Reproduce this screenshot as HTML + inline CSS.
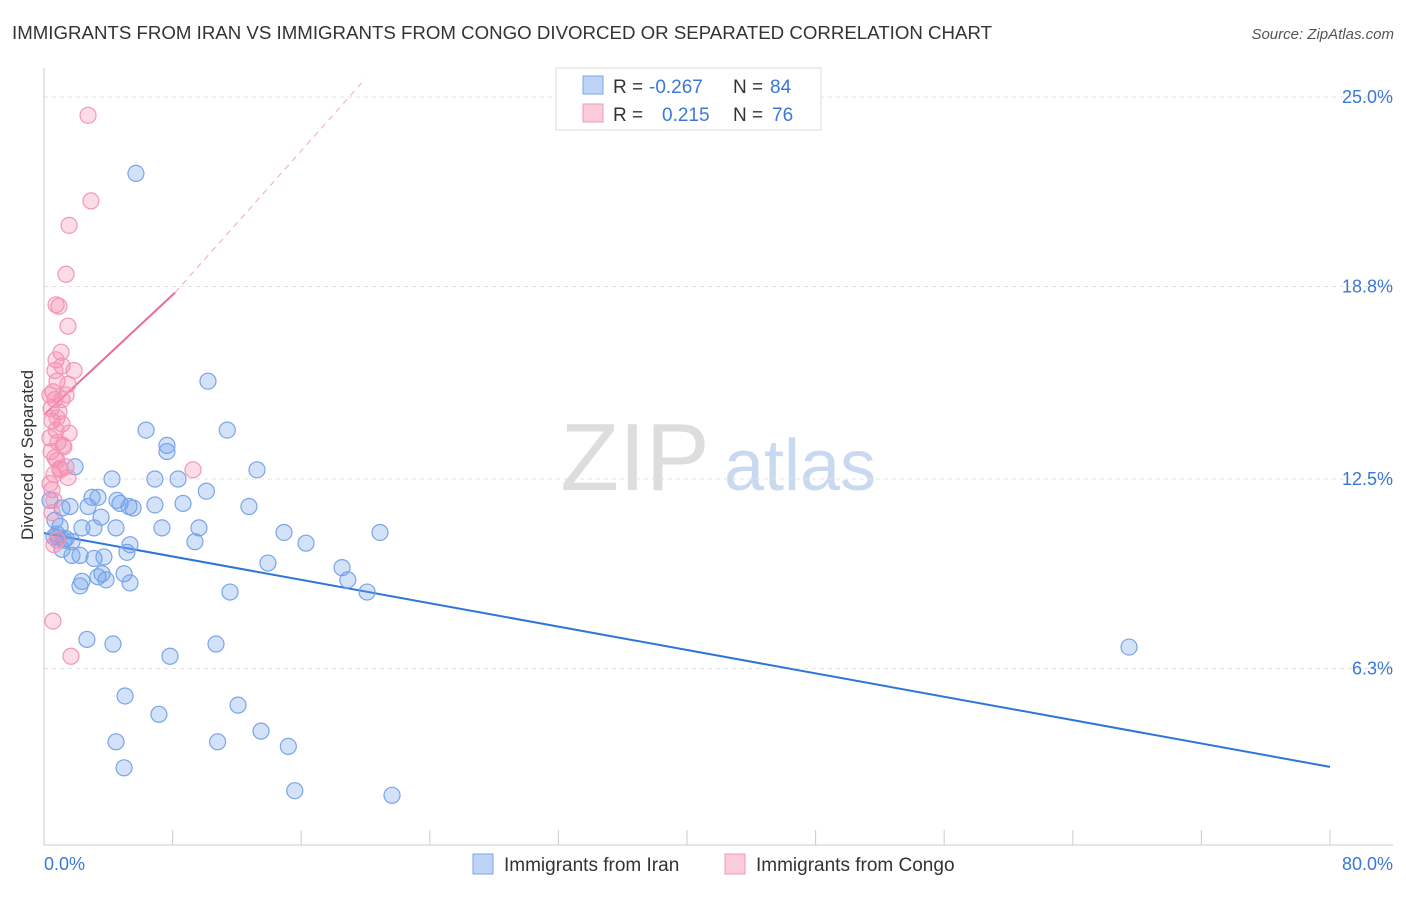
<!DOCTYPE html>
<html><head><meta charset="utf-8"><style>
body{margin:0;background:#fff;font-family:"Liberation Sans",sans-serif;}
svg text{font-family:"Liberation Sans",sans-serif;}
</style></head><body>
<svg id="chart" width="1406" height="892" xmlns="http://www.w3.org/2000/svg">
<text x="12" y="39" font-size="18" fill="#333" textLength="980" lengthAdjust="spacingAndGlyphs">IMMIGRANTS FROM IRAN VS IMMIGRANTS FROM CONGO DIVORCED OR SEPARATED CORRELATION CHART</text>
<text x="1394" y="39" font-size="15" fill="#555" text-anchor="end" font-style="italic">Source: ZipAtlas.com</text>
<g>
<text x="635" y="490" font-size="96" fill="#ddd" text-anchor="middle" font-family="Liberation Serif">ZIP</text>
<text x="800" y="490" font-size="72" fill="#c9d9f0" text-anchor="middle">atlas</text>
</g>
<g id="grid"></g>
<g id="axes"></g>
<g id="lines"></g>
<g id="points"></g>
<text transform="translate(33,455) rotate(-90)" font-size="17" fill="#333" text-anchor="middle">Divorced or Separated</text>
<g>
<rect x="556" y="68" width="265" height="62" fill="#fff" stroke="#ddd"/>
<rect x="583" y="76" width="20" height="18" fill="rgba(110,160,235,0.45)" stroke="#7aa6e6"/>
<rect x="583" y="104" width="20" height="18" fill="rgba(245,140,175,0.45)" stroke="#f09abb"/>
<text x="613" y="93" font-size="19" fill="#333">R =</text>
<text x="649" y="93" font-size="19" fill="#3a78d8">-0.267</text>
<text x="733" y="93" font-size="19" fill="#333">N =</text>
<text x="770" y="93" font-size="19" fill="#3a78d8">84</text>
<text x="613" y="121" font-size="19" fill="#333">R =</text>
<text x="662" y="121" font-size="19" fill="#3a78d8">0.215</text>
<text x="733" y="121" font-size="19" fill="#333">N =</text>
<text x="772" y="121" font-size="19" fill="#3a78d8">76</text>
</g>
<g>
<rect x="473" y="854" width="20" height="20" fill="rgba(110,160,235,0.45)" stroke="#7aa6e6"/>
<text x="504" y="871" font-size="19" fill="#333">Immigrants from Iran</text>
<rect x="725" y="854" width="20" height="20" fill="rgba(245,140,175,0.45)" stroke="#f09abb"/>
<text x="756" y="871" font-size="19" fill="#333">Immigrants from Congo</text>
</g>
</svg>
<script>
const yTicks=[25.0,18.8,12.5,6.3];
const yTickLabels=["25.0%","18.8%","12.5%","6.3%"];
const xTickLabels=["0.0%","80.0%"];
const iranX=[5.72,10.2,6.35,11.4,7.65,7.65,13.25,1.93,4.23,6.9,8.34,10.1,2.99,3.36,4.54,4.73,5.29,5.54,8.65,6.9,12.75,1.12,1.62,2.74,3.55,2.36,3.11,4.48,7.34,9.64,14.93,20.9,1.0,0.81,1.24,1.74,0.62,5.35,9.39,16.3,1.12,1.74,2.24,3.11,3.73,5.16,13.93,18.54,4.98,3.36,3.61,3.86,2.36,2.24,5.35,18.9,20.1,11.57,2.67,4.29,10.7,7.84,67.5,5.04,12.07,7.15,4.48,10.8,13.5,15.2,4.98,15.6,21.65,0.68,0.37,0.87,1.37];
const iranY=[22.5,15.7,14.1,14.1,13.6,13.4,12.8,12.9,12.5,12.5,12.5,12.1,11.9,11.9,11.8,11.7,11.6,11.55,11.7,11.65,11.6,11.55,11.6,11.6,11.25,10.9,10.9,10.9,10.9,10.9,10.75,10.75,10.95,10.7,10.5,10.45,10.6,10.35,10.45,10.4,10.2,10.0,10.0,9.9,9.95,10.1,9.75,9.6,9.4,9.3,9.4,9.2,9.15,9.0,9.1,9.2,8.8,8.8,7.25,7.1,7.1,6.7,7.0,5.4,5.1,4.8,3.9,3.9,4.25,3.75,3.05,2.3,2.15,11.15,11.8,10.6,10.55];
const congoX=[2.74,2.92,1.56,1.37,0.75,0.93,1.49,1.06,0.75,1.12,1.87,0.81,1.49,0.56,1.37,0.68,0.44,0.93,0.5,1.12,0.75,1.56,0.37,0.87,1.24,0.44,0.68,1.37,1.0,9.27,0.62,1.49,0.37,0.5,0.62,0.5,0.81,0.62,0.56,1.68,1.0,0.81,1.12,0.37,0.68,1.18,0.81];
const congoY=[24.4,21.6,20.8,19.2,18.2,18.15,17.5,16.65,16.4,16.2,16.05,15.7,15.6,15.35,15.25,15.1,14.8,14.7,14.4,14.3,14.1,14.0,13.85,13.7,13.55,13.4,13.2,12.9,12.85,12.8,12.65,12.55,12.35,12.15,11.8,11.4,10.5,10.35,7.85,6.7,12.8,13.1,15.1,15.25,16.05,13.6,14.5];
const iranTrend=[[0,10.73],[80,3.08]];
const congoTrend=[[0,14.6],[8.15,18.6]];
const congoTrendExt=[[8.15,18.6],[20,25.6]];

const NS="http://www.w3.org/2000/svg";
const X0=44,X1=1330,Y0=861,YPX=30.56;
const sx=v=>X0+v/80*(X1-X0);
const sy=v=>Y0-v*YPX;
function mk(tag,attrs,parent){const e=document.createElementNS(NS,tag);for(const k in attrs)e.setAttribute(k,attrs[k]);parent.appendChild(e);return e;}
const grid=document.getElementById('grid'),axes=document.getElementById('axes'),lines=document.getElementById('lines'),pts=document.getElementById('points');
yTicks.forEach((t,i)=>{
  const g=mk('line',{x1:44,x2:1393,y1:sy(t),y2:sy(t),stroke:'#e3e3e3','stroke-dasharray':'4,4'},grid);
  
  
  const l=mk('text',{x:1393,y:sy(t)+6,'font-size':18,fill:'#3a78d8','text-anchor':'end'},axes);
  l.textContent=yTickLabels[i];
  
  
});
const xa=mk('line',{x1:44,x2:1393,y1:845,y2:845,stroke:'#ccc'},axes);


const ya=mk('line',{x1:44,x2:44,y1:68,y2:845,stroke:'#ccc'},axes);


for(let i=0;i<=10;i++){
  const t=mk('line',{x1:sx(i*8),x2:sx(i*8),y1:845,y2:830,stroke:'#ccc'},axes);
  
  
}
const xl0=mk('text',{x:44,y:870,'font-size':18,fill:'#3a78d8'},axes);
xl0.textContent=xTickLabels[0];


const xl1=mk('text',{x:1393,y:870,'font-size':18,fill:'#3a78d8','text-anchor':'end'},axes);
xl1.textContent=xTickLabels[1];



iranX.forEach((x,i)=>{
  const c=mk('circle',{cx:sx(x),cy:sy(iranY[i]),r:8,fill:'rgba(110,160,235,0.3)',stroke:'#78a5e6','stroke-width':1.2},pts);
  
  
});
congoX.forEach((x,i)=>{
  const c=mk('circle',{cx:sx(x),cy:sy(congoY[i]),r:8,fill:'rgba(245,140,175,0.3)',stroke:'#f296b8','stroke-width':1.2},pts);
  
  
});
const bl=mk('line',{x1:sx(iranTrend[0][0]),y1:sy(iranTrend[0][1]),x2:sx(iranTrend[1][0]),y2:sy(iranTrend[1][1]),stroke:'#2f74d8','stroke-width':2},lines);


const pl=mk('line',{x1:sx(congoTrend[0][0]),y1:sy(congoTrend[0][1]),x2:sx(congoTrend[1][0]),y2:sy(congoTrend[1][1]),stroke:'#ea6d98','stroke-width':2},lines);


const pd=mk('line',{x1:sx(congoTrendExt[0][0]),y1:sy(congoTrendExt[0][1]),x2:sx(congoTrendExt[1][0]),y2:sy(congoTrendExt[1][1]),stroke:'#f0a8c0','stroke-width':1,'stroke-dasharray':'6,5'},lines);


</script>
</body></html>
